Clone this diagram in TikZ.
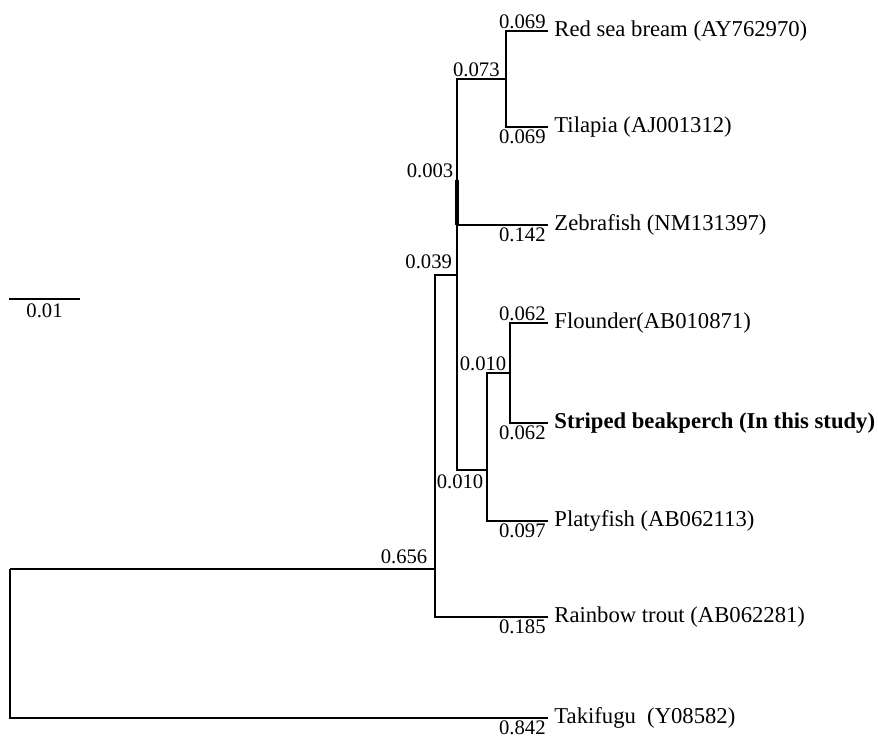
\documentclass[tikz,border=0pt]{standalone}
\usepackage{fontspec}
\setmainfont{Liberation Serif}
\usetikzlibrary{positioning}

\begin{document}
\begin{tikzpicture}[x=0.75pt, y=-0.75pt, line width=1.6pt,
  taxon/.style={anchor=west, inner sep=4pt, font=\fontsize{17}{19}\selectfont},
  blen/.style={inner sep=1pt, font=\fontsize{15.5}{17}\selectfont}]

\useasboundingbox (0,0) rectangle (878,742);

% Internal nodes
\coordinate (root) at (10,569);
\coordinate (n1) at (435,569);
\coordinate (n2) at (457,275);
\coordinate (n3) at (506,79);
\coordinate (n4) at (487,470);
\coordinate (n5) at (510,373);
\coordinate (thick) at (457,180);

% Taxa
\node (bream) [taxon] at (548,31) {Red sea bream (AY762970)};
\node (tilapia) [taxon] at (548,127) {Tilapia (AJ001312)};
\node (zebra) [taxon] at (548,225) {Zebrafish (NM131397)};
\node (flounder) [taxon] at (548,323) {Flounder(AB010871)};
\node (striped) [taxon] at (548,423) {\bfseries Striped beakperch (In this study)};
\node (platy) [taxon] at (548,521) {Platyfish (AB062113)};
\node (trout) [taxon] at (548,617) {Rainbow trout (AB062281)};
\node (fugu) [taxon] at (548,718) {Takifugu\ \ (Y08582)};

% Branches
\draw (root) -- (n1);
\draw (root) |- (fugu.west);
\draw (n1) |- (n2);
\draw (n1) |- (trout.west);
\draw (n2) |- (n3);
\draw (n2) |- (zebra.west);
\draw (n2) |- (n4);
\draw (n3) |- (bream.west);
\draw (n3) |- (tilapia.west);
\draw (n4) |- (n5);
\draw (n4) |- (platy.west);
\draw (n5) |- (flounder.west);
\draw (n5) |- (striped.west);
\draw[line width=3pt] (thick) -- (n2 |- zebra.west);

% Branch lengths
\node [blen, above left=0pt and 0pt of bream.west] {0.069};
\node [blen, below left=0pt and 0pt of tilapia.west] {0.069};
\node [blen, below left=0pt and 0pt of zebra.west] {0.142};
\node [blen, above left=0pt and 0pt of flounder.west] {0.062};
\node [blen, below left=0pt and 0pt of striped.west] {0.062};
\node [blen, below left=0pt and 0pt of platy.west] {0.097};
\node [blen, below left=0pt and 0pt of trout.west] {0.185};
\node [blen, below left=0pt and 0pt of fugu.west] {0.842};
\node [blen, above left=0pt and 3pt of n3] {0.073};
\node [blen, above left=0pt and 1pt of thick] {0.003};
\node [blen, above left=3pt and 2pt of n2] {0.039};
\node [blen, above left=0pt and 1pt of n5] {0.010};
\node [blen, below left=2pt and 1pt of n4] {0.010};
\node [blen, above left=2pt and 4pt of n1] {0.656};

% Scale bar
\coordinate (sbl) at (9,299);
\coordinate (sbr) at (80,299);
\draw (sbl) -- node [blen, below=2pt] {0.01} (sbr);

\end{tikzpicture}
\end{document}
